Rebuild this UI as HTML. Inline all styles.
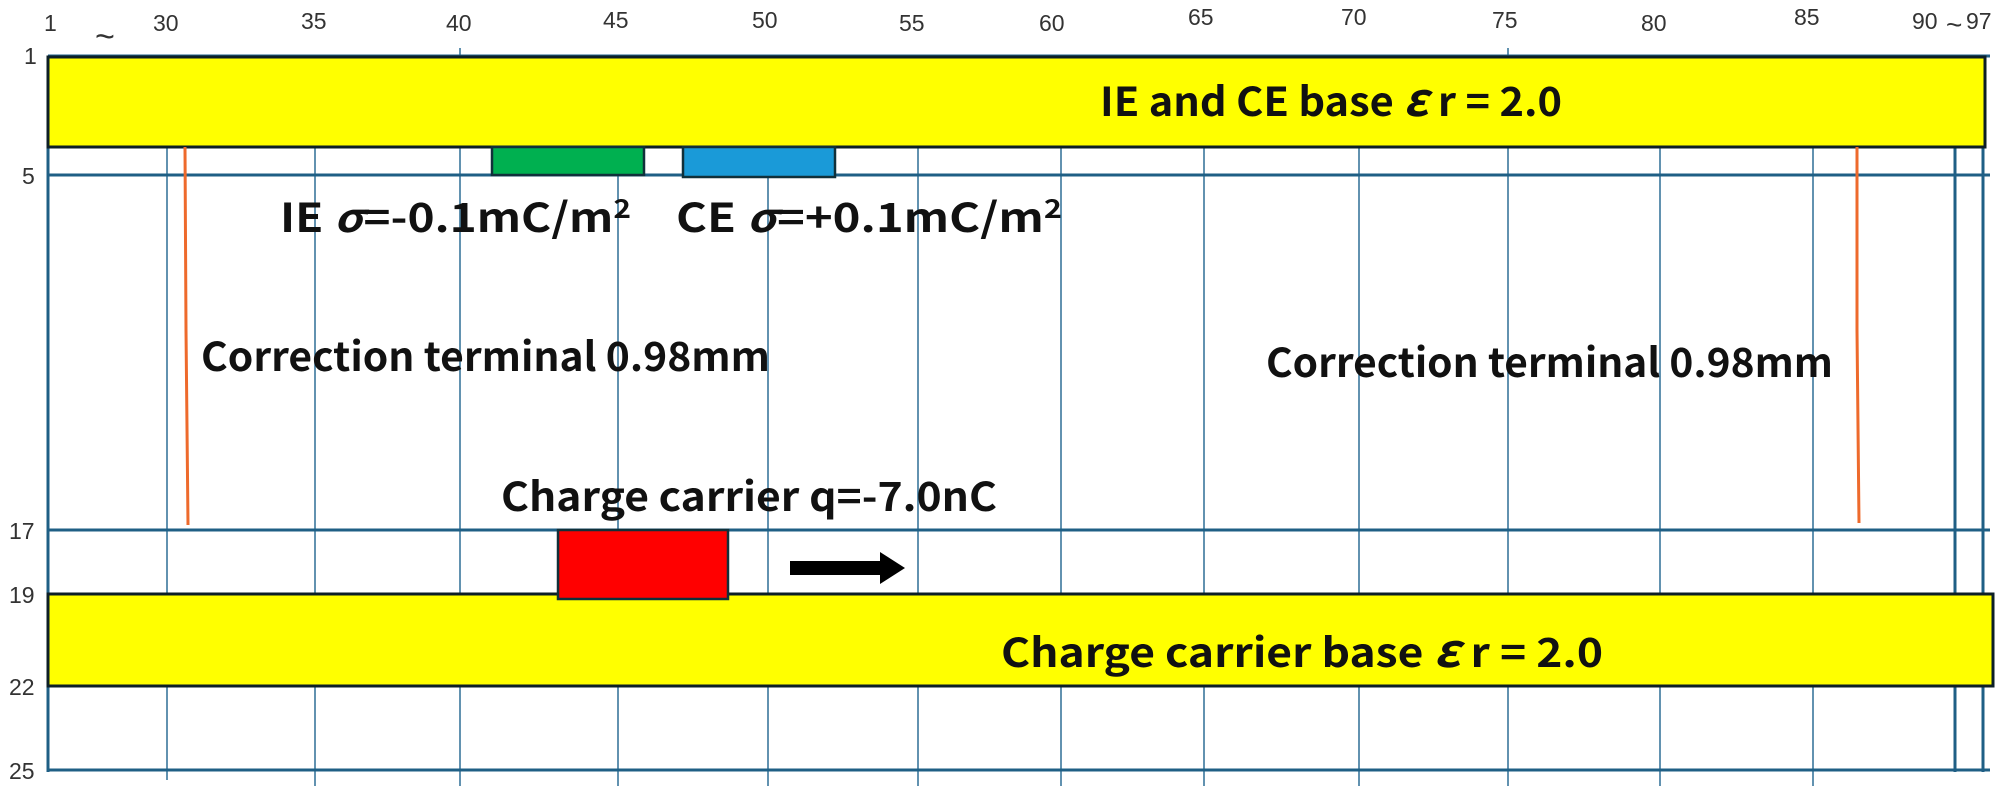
<!DOCTYPE html>
<html><head><meta charset="utf-8"><style>
html,body{margin:0;padding:0;background:#fff;}
svg{display:block;}
.ax{font-family:"Liberation Sans",sans-serif;font-size:23px;fill:#333;}
.t{font-family:"Noto Sans CJK JP","Liberation Sans",sans-serif;font-size:40px;font-weight:bold;fill:#111;}
</style></head><body>
<svg width="1999" height="786" viewBox="0 0 1999 786" xmlns="http://www.w3.org/2000/svg">
<g stroke="#2e6f95" stroke-width="1.5">
<line x1="167" y1="147" x2="167" y2="780"/>
<line x1="315" y1="147" x2="315" y2="786"/>
<line x1="460" y1="48" x2="460" y2="786"/>
<line x1="618" y1="147" x2="618" y2="786"/>
<line x1="768" y1="147" x2="768" y2="786"/>
<line x1="918" y1="147" x2="918" y2="786"/>
<line x1="1061" y1="147" x2="1061" y2="786"/>
<line x1="1204" y1="147" x2="1204" y2="786"/>
<line x1="1359" y1="147" x2="1359" y2="786"/>
<line x1="1508" y1="48" x2="1508" y2="786"/>
<line x1="1660" y1="147" x2="1660" y2="786"/>
<line x1="1813" y1="147" x2="1813" y2="786"/>
</g>
<g stroke="#1f5f85" stroke-width="3">
<line x1="48" y1="56" x2="48" y2="772"/>
<line x1="1955" y1="147" x2="1955" y2="772"/>
<line x1="1983" y1="147" x2="1983" y2="772"/>
<line x1="48" y1="56" x2="1990" y2="56"/>
<line x1="48" y1="175" x2="1990" y2="175"/>
<line x1="48" y1="530" x2="1990" y2="530"/>
<line x1="48" y1="770" x2="1990" y2="770"/>
</g>
<rect x="48" y="57" width="1937" height="90" fill="#ffff00" stroke="#0d1f26" stroke-width="3"/>
<rect x="48" y="594" width="1945" height="92" fill="#ffff00" stroke="#0d1f26" stroke-width="3"/>
<rect x="492" y="147" width="152" height="28" fill="#00b050" stroke="#10303a" stroke-width="2.5"/>
<rect x="683" y="147" width="152" height="30" fill="#1a9ad8" stroke="#10303a" stroke-width="2.5"/>
<rect x="558" y="530" width="170" height="69" fill="#ff0000" stroke="#10303a" stroke-width="2.5"/>
<polygon points="790,561 880,561 880,552 905,568 880,584 880,575 790,575" fill="#000"/>
<polyline points="185,147 186,330 188,525" fill="none" stroke="#ee6a2c" stroke-width="3"/>
<polyline points="1857,147 1857,330 1859,523" fill="none" stroke="#ee6a2c" stroke-width="3"/>
<text class="t" x="1100" y="116" textLength="462" lengthAdjust="spacingAndGlyphs">IE and CE base  <tspan font-size="46" font-style="italic">ε</tspan> r = 2.0</text>
<text class="t" x="280" y="232" textLength="351" lengthAdjust="spacingAndGlyphs">IE  <tspan font-style="italic">σ</tspan>=-0.1mC/m<tspan font-size="26" dy="-14">2</tspan></text>
<text class="t" x="676" y="232" textLength="386" lengthAdjust="spacingAndGlyphs">CE  <tspan font-style="italic">σ</tspan>=+0.1mC/m<tspan font-size="26" dy="-14">2</tspan></text>
<text class="t" x="201" y="371" textLength="569" lengthAdjust="spacingAndGlyphs">Correction terminal 0.98mm</text>
<text class="t" x="1266" y="377" textLength="567" lengthAdjust="spacingAndGlyphs">Correction terminal 0.98mm</text>
<text class="t" x="501" y="511" textLength="496" lengthAdjust="spacingAndGlyphs">Charge carrier q=-7.0nC</text>
<text class="t" x="1001" y="667" textLength="602" lengthAdjust="spacingAndGlyphs">Charge carrier base  <tspan font-size="46" font-style="italic">ε</tspan> r = 2.0</text>
<g class="ax">
<text x="44" y="31">1</text>
<text x="95" y="48" font-size="34">~</text>
<text x="153" y="31">30</text>
<text x="301" y="29">35</text>
<text x="446" y="31">40</text>
<text x="603" y="28">45</text>
<text x="752" y="28">50</text>
<text x="899" y="31">55</text>
<text x="1039" y="31">60</text>
<text x="1188" y="25">65</text>
<text x="1341" y="25">70</text>
<text x="1492" y="28">75</text>
<text x="1641" y="31">80</text>
<text x="1794" y="25">85</text>
<text x="1912" y="29">90</text>
<text x="1946" y="34" font-size="28">~</text>
<text x="1966" y="29">97</text>
<text x="24" y="64">1</text>
<text x="22" y="184">5</text>
<text x="9" y="539">17</text>
<text x="9" y="603">19</text>
<text x="9" y="695">22</text>
<text x="9" y="779">25</text>
</g>
</svg>
</body></html>
